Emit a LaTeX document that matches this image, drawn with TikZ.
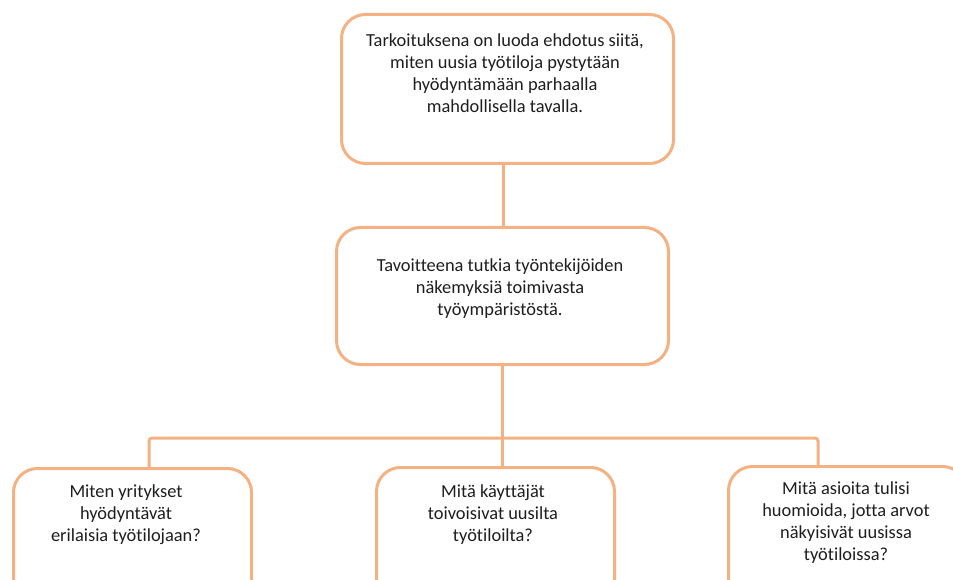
\documentclass[tikz,border=0pt]{standalone}
\usepackage{fontspec}
\setmainfont{Carlito}[Ligatures=NoCommon]
\definecolor{boxline}{HTML}{F4B183}
\definecolor{txtcol}{HTML}{1E1E1E}
\begin{document}
\begin{tikzpicture}[x=1pt,y=-1pt,
  box/.style={draw=boxline,line width=3pt,rounded corners=24pt,fill=white,anchor=north west,inner sep=0pt},
  conn/.style={draw=boxline,line width=3pt,rounded corners=3pt},
  txt/.style={align=center,font=\fontsize{18.4}{22}\selectfont,text=txtcol,inner sep=0pt}]
\useasboundingbox (0,0) rectangle (953,580);
\clip (0,0) rectangle (953,580);
% boxes
\node[box,minimum width=332pt,minimum height=149pt] (top) at (340,13) {};
\node[box,minimum width=332pt,minimum height=137pt] (mid) at (335,226) {};
\node[box,minimum width=238pt,minimum height=140pt] (b1) at (12,467) {};
\node[box,minimum width=238pt,minimum height=140pt] (b2) at (375,466) {};
\node[box,minimum width=238pt,minimum height=140pt] (b3) at (727,465) {};
% connector anchor points
\coordinate (t1) at (503,162);
\coordinate (m1) at (503,226);
\coordinate (m2) at (502,363);
\coordinate (j) at (502,438);
\coordinate (d1) at (149,467);
\coordinate (d2) at (502,466);
\coordinate (d3) at (818,465);
\draw[conn] (t1) -- (m1);
\draw[conn] (m2) -- (j);
\draw[conn] (d1) |- (j) -| (d3);
\draw[conn] (j) -- (d2);
% texts
\node[txt] (ttop) at (505,73.5) {Tarkoituksena on luoda ehdotus siitä,\\miten uusia työtiloja pystytään\\hyödyntämään parhaalla\\mahdollisella tavalla.};
\node[txt] (tmid) at (500,288.5) {Tavoitteena tutkia työntekijöiden\\näkemyksiä toimivasta\\työympäristöstä.};
\node[txt] (tb1) at (126,514.5) {Miten yritykset\\hyödyntävät\\erilaisia työtilojaan?};
\node[txt] (tb2) at (493,514.5) {Mitä käyttäjät\\toivoisivat uusilta\\työtiloilta?};
\node[txt] (tb3) at (846,522.5) {Mitä asioita tulisi\\huomioida, jotta arvot\\näkyisivät uusissa\\työtiloissa?};
\end{tikzpicture}
\end{document}
